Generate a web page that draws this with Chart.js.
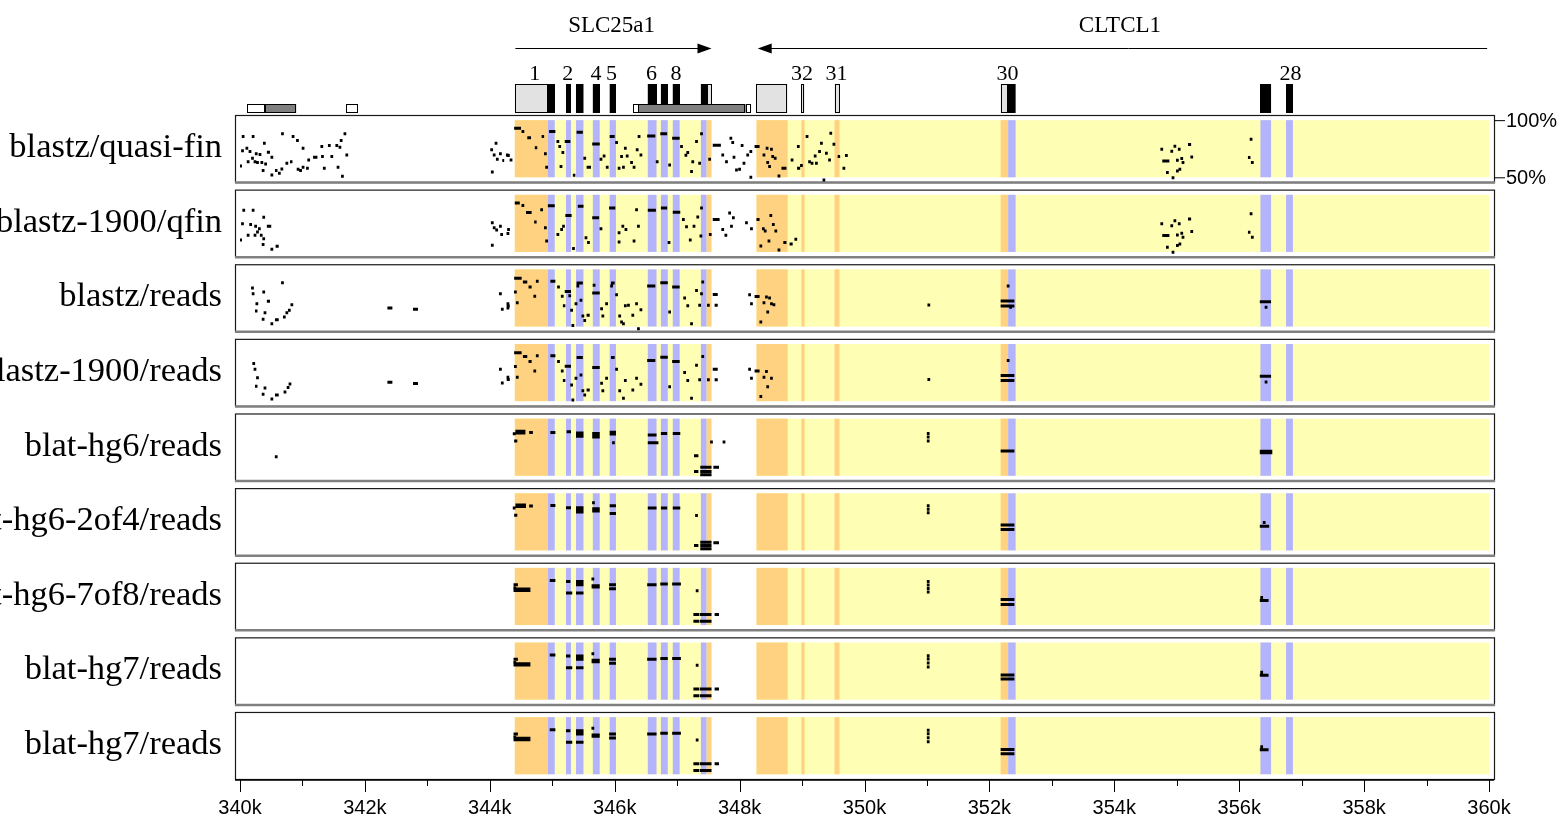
<!DOCTYPE html>
<html><head><meta charset="utf-8">
<script src="https://cdn.jsdelivr.net/npm/chart.js@4.4.1/dist/chart.umd.min.js"></script>
<style>html,body{margin:0;padding:0;background:#fff;overflow:hidden}canvas{display:block}</style>
</head><body>
<canvas id="c" width="1565" height="822"></canvas>
<script>
// ---------------- data ----------------
const panelLabels = ["blastz/quasi-fin","blastz-1900/qfin","blastz/reads","blastz-1900/reads","blat-hg6/reads","blat-hg6-2of4/reads","blat-hg6-7of8/reads","blat-hg7/reads","blat-hg7/reads"];
const xTickValues = [340,341,342,343,344,345,346,347,348,349,350,351,352,353,354,355,356,357,358,359,360];
const xLabelValues = [340,342,344,346,348,350,352,354,356,358,360];
const pctLabels = [100,50];

// aligned regions (kb)
const yellowRegions = [[344.40,347.55],[348.27,360.0]];
const utrExons = [[344.40,344.93],[347.47,347.55],[348.27,348.77],[348.99,349.04],[349.52,349.60],[352.18,352.30]];
const cdsExons = [[344.93,345.04],[345.22,345.30],[345.38,345.50],[345.65,345.76],[345.92,346.02],[346.53,346.67],[346.74,346.85],[346.93,347.04],[347.38,347.47],[352.30,352.42],[356.34,356.51],[356.75,356.86]];
const repeatsSimple = [[340.11,340.40],[341.70,341.90],[346.29,346.38],[348.10,348.18]];
const repeatsOther = [[340.40,340.90],[346.38,348.10]];
const exonNumbers = [[344.72,"1"],[345.25,"2"],[345.70,"4"],[345.95,"5"],[346.59,"6"],[346.98,"8"],[349.00,"32"],[349.55,"31"],[352.29,"30"],[356.82,"28"]];
const geneNames = ["SLC25a1","CLTCL1"];
const geneLabelAt = [345.95,354.09];
const geneArrowFrom = [344.41,359.97];
const geneArrowTo = [347.55,348.29];

// percent-identity segments: [start,end,pct] or [pos,pct]
const blastzQuasiFin = [
[340.01,59.9],[340.13,63.7],[340.24,63.7],[340.28,62.9],[340.35,63.0],[340.32,69.9],[340.26,70.5],[340.43,340.48,72.0],[340.41,61.7],[340.37,55.9],[340.51,52.0],[340.56,340.60,55.9],[340.63,53.5],[340.75,62.3],[340.80,340.84,63.7],[340.93,57.0],[340.97,56.0],[341.01,58.8],[341.10,65.2],[341.17,341.24,67.5],[341.31,76.9],[341.35,57.9],[341.47,68.2],[341.55,77.8],[341.60,76.3],[341.62,82.2],[341.68,88.0],[341.71,69.6],[341.57,58.8],[341.64,50.9],[340.21,85.7],[340.05,85.7],[340.68,88.0],[340.85,85.7],[340.92,82.2],[340.39,79.8],[340.16,72.5],[340.04,73.3],[340.11,75.4],[340.51,67.5],[340.20,66.7],[340.67,57.3],[341.01,75.4],[341.32,68.2],[341.43,77.8],[341.08,57.9],
[344.03,74.0],[344.07,69.6],[344.12,65.8],[344.17,70.5],[344.20,344.23,64.7],[344.27,344.32,69.0],[344.34,65.2],[344.04,54.7],[344.10,79.8],[344.28,69.6],
[344.39,344.50,93.0],[344.53,90.0],[344.60,344.66,84.6],[344.72,344.76,75.9],[344.83,344.87,85.7],[344.89,70.5],[344.91,58.8],[344.95,345.05,90.0],[345.09,81.3],[345.12,76.9],[345.17,71.6],[345.20,345.29,81.3],[345.14,59.4],[345.33,345.37,51.8],[345.39,345.49,89.5],[345.52,66.7],[345.55,345.62,58.8],[345.64,345.76,79.2],[345.78,65.8],[345.83,68.7],[345.88,58.8],[345.92,346.00,85.7],[346.03,80.4],[346.07,57.9],[346.11,68.2],[346.14,58.8],[346.17,75.4],[346.20,68.7],[346.27,62.9],[346.31,58.8],[346.36,74.0],[346.39,85.7],[346.42,69.6],[346.52,346.65,86.2],[346.68,63.7],[346.73,346.84,88.0],[346.92,347.04,84.2],[346.88,60.8],[347.07,76.9],[347.14,69.3],[347.17,71.6],[347.23,55.0],[347.25,63.7],[347.31,81.3],[347.36,62.3],[347.39,88.0],[347.52,65.8],[347.57,347.70,78.1],[347.73,69.6],[347.79,63.7],[347.86,84.2],[347.89,80.4],[347.91,67.5],[347.95,56.4],[348.00,57.0],[348.04,77.8],[348.07,62.3],[348.13,69.6],[348.18,50.0],[348.18,72.5],[348.24,348.32,76.9],[348.39,69.6],[348.44,75.4],[348.45,62.9],[348.48,59.4],[348.53,68.2],[348.57,66.7],[348.51,74.6],[348.63,51.2],[348.67,348.75,57.9],[348.84,65.2],[348.92,348.97,57.9],[348.94,76.9],[348.99,60.3],[349.08,85.7],[349.12,63.7],[349.16,62.3],[349.21,68.7],[349.23,62.3],[349.28,72.5],[349.31,79.8],[349.39,71.0],[349.44,65.2],[349.46,88.5],[349.51,79.0],[349.57,349.61,68.2],[349.71,69.0],[349.67,57.9],[349.35,47.7],
[354.76,74.6],[354.92,72.8],[354.97,77.2],[355.04,74.6],[355.18,355.23,78.7],[354.79,64.3],[354.83,64.3],[354.86,64.3],[355.01,64.9],[355.08,66.4],[355.10,62.9],[355.24,67.8],[354.85,54.1],[354.94,49.7],[355.01,55.6],[355.05,57.0],[356.14,356.18,67.3],[356.21,62.9],[356.19,83.3]
];
const blastz1900Qfin = [
[340.06,86.4],[340.21,86.4],[340.38,80.3],[340.04,74.6],[340.17,74.0],[340.25,72.5],[340.31,70.3],[340.43,340.50,72.5],[340.01,60.4],[340.13,64.5],[340.24,64.5],[340.28,67.4],[340.34,64.5],[340.38,61.5],[340.37,56.6],[340.57,340.62,54.9],[340.51,52.3],
[344.04,75.5],[344.07,71.1],[344.11,69.1],[344.19,65.3],[344.17,72.5],[344.30,69.7],[344.29,66.2],[344.04,55.8],
[344.40,344.48,92.8],[344.53,90.7],[344.58,344.67,84.4],[344.71,344.75,76.2],[344.83,87.0],[344.89,71.1],[344.91,59.5],[344.93,345.04,90.5],[345.09,65.3],[345.15,69.7],[345.18,72.5],[345.21,345.31,81.8],[345.34,52.9],[345.41,345.50,89.9],[345.54,62.5],[345.58,58.2],[345.64,345.75,79.8],[345.78,70.3],[345.91,346.01,88.5],[346.07,66.8],[346.13,72.5],[346.18,69.7],[346.07,58.6],[346.31,59.5],[346.38,72.5],[346.35,87.0],[346.53,346.66,86.4],[346.74,346.84,88.5],[346.93,347.05,84.7],[346.87,58.2],[347.10,78.3],[347.15,72.0],[347.21,60.4],[347.27,72.5],[347.33,80.6],[347.39,88.5],[347.38,63.9],[347.53,65.3],[347.57,347.68,78.3],[347.73,69.7],[347.78,64.5],[347.84,84.1],[347.90,79.8],[347.87,72.5],[348.11,75.5],[348.19,70.3],[348.27,348.32,78.3],[348.38,70.3],[348.41,68.3],[348.50,81.8],[348.54,74.0],[348.58,68.3],[348.34,55.2],[348.47,59.5],[348.63,51.7],[348.70,348.75,58.2],[348.80,348.85,57.0],[348.90,61.0],
[354.76,74.6],[354.92,72.8],[354.97,77.2],[355.04,74.6],[355.18,355.23,78.7],[354.79,64.3],[354.83,64.3],[354.86,64.3],[355.01,64.9],[355.08,66.4],[355.10,62.9],[355.24,67.8],[354.85,54.1],[354.94,49.7],[355.01,55.6],[355.05,57.0],[356.14,356.18,67.3],[356.21,62.9],[356.19,83.3]
];
const blastzReads = [
[340.20,83.8],[340.21,78.8],[340.27,70.0],[340.43,340.48,72.1],[340.24,340.28,63.6],[340.40,62.1],[340.37,56.3],[340.51,52.5],[340.56,340.62,56.0],[340.71,58.3],[340.75,62.1],[340.79,64.2],[340.83,69.1],[340.68,88.4],[340.38,80.3],
[342.36,342.44,66.2],[342.77,342.85,65.1],
[344.17,78.8],[344.20,65.1],[344.27,344.32,68.0],[344.29,66.2],[344.29,70.0],
[344.39,344.51,92.3],[344.53,344.60,89.0],[344.62,344.67,84.6],[344.41,80.3],[344.44,70.9],[344.72,76.5],[344.76,89.7],[344.97,345.05,89.7],[345.10,84.6],[345.16,76.5],[345.17,345.21,68.1],[345.20,345.30,80.6],[345.28,76.9],[345.31,64.2],[345.33,51.0],[345.38,70.0],[345.39,345.49,88.2],[345.41,85.5],[345.46,73.0],[345.49,59.2],[345.52,55.4],[345.55,345.60,59.8],[345.64,345.76,79.4],[345.67,86.1],[345.79,65.6],[345.81,59.2],[345.87,70.0],[345.94,346.00,88.2],[345.95,85.5],[346.03,77.9],[346.08,59.2],[346.11,54.0],[346.14,52.5],[346.17,68.1],[346.22,68.7],[346.29,59.8],[346.35,70.0],[346.42,64.8],[346.52,346.65,85.5],[346.73,346.85,88.4],[346.92,347.04,84.6],[346.88,62.7],[347.12,75.0],[347.17,68.1],[347.23,52.5],[347.31,81.5],[347.36,68.7],[347.39,78.8],[347.41,89.0],[347.50,68.7],[347.57,347.65,78.0],[347.60,347.65,68.7],
[348.16,77.9],[348.19,70.0],[348.24,348.32,76.3],[348.39,70.9],[348.43,75.9],[348.48,75.0],[348.45,62.7],[348.51,70.0],[348.55,69.1],[348.34,54.0],[346.38,48.0],
[351.03,68.9],[352.30,85.5],[352.18,352.40,72.4],[352.18,352.40,68.0],[352.34,66.8],[356.33,356.51,71.8],[356.43,66.8]
];
const blastz1900Reads = [
[340.22,83.0],[340.24,78.0],[340.28,70.5],[340.24,340.28,63.0],[340.40,61.5],[340.37,56.0],[340.51,52.0],[340.56,340.62,55.5],[340.72,58.0],[340.77,62.0],[340.80,65.0],
[342.36,342.44,66.5],[342.77,342.85,65.5],
[344.17,78.0],[344.20,66.0],[344.27,344.32,69.0],[344.29,71.0],
[344.39,344.51,92.3],[344.53,344.60,89.0],[344.62,344.67,84.6],[344.41,80.3],[344.44,70.9],[344.72,76.5],[344.76,89.7],[344.97,345.05,89.7],[345.10,84.6],[345.16,76.5],[345.17,345.21,68.1],[345.20,345.30,80.6],[345.31,64.2],[345.33,51.0],[345.38,70.0],[345.39,345.49,88.2],[345.46,73.0],[345.49,59.2],[345.52,55.4],[345.55,345.60,59.8],[345.64,345.76,79.4],[345.79,65.6],[345.81,59.2],[345.87,70.0],[345.94,346.00,88.2],[346.03,77.9],[346.08,59.2],[346.14,52.5],[346.17,68.1],[346.29,59.8],[346.35,70.0],[346.42,64.8],[346.52,346.65,85.5],[346.73,346.85,88.4],[346.92,347.04,84.6],[346.88,62.7],[347.12,75.0],[347.17,68.1],[347.23,52.5],[347.31,81.5],[347.36,68.7],[347.41,89.0],[347.50,68.7],[347.57,347.65,78.0],[347.60,347.65,68.7],
[348.16,77.9],[348.19,70.0],[348.24,348.32,76.3],[348.39,70.9],[348.43,75.9],[348.45,62.7],[348.51,70.0],[348.34,54.0],
[351.03,68.9],[352.30,85.5],[352.18,352.40,72.4],[352.18,352.40,68.0],[356.33,356.51,71.8],[356.43,66.8]
];
const blatHg6Reads = [
[340.58,66.6],
[344.41,344.57,89.0],[344.41,344.57,87.5],[344.63,344.69,87.9],[344.39,86.8],[344.39,344.44,80.4],[344.97,345.05,87.9],[345.23,345.30,88.5],[345.38,345.50,87.5],[345.38,345.50,86.0],[345.38,345.50,84.5],[345.64,345.76,87.0],[345.64,345.76,85.5],[345.64,345.76,84.0],[345.92,346.02,88.0],[345.92,346.02,86.5],[345.98,79.0],[346.53,346.67,85.6],[346.53,346.70,79.0],[346.74,346.84,87.0],[346.93,347.05,87.0],[347.27,347.34,67.5],[347.27,347.34,53.7],[347.37,347.55,57.5],[347.37,347.55,53.7],[347.37,347.55,50.9],[347.58,347.67,57.5],[347.55,79.6],[347.75,79.6],
[351.02,87.0],[351.02,84.0],[351.02,80.5],[352.18,352.40,71.6],[356.33,356.53,71.5],[356.33,356.53,70.2]
];
const blatHg6_2of4Reads = [
[344.41,344.58,89.8],[344.41,344.58,88.5],[344.63,344.69,88.9],[344.39,87.0],[344.39,344.44,80.7],[344.97,345.05,89.3],[345.22,345.30,87.3],[345.38,345.50,87.4],[345.38,345.50,85.5],[345.38,345.50,83.5],[345.64,345.76,86.5],[345.64,345.76,84.5],[345.66,91.6],[345.92,346.02,89.0],[345.92,346.02,82.4],[346.53,346.67,87.0],[346.74,346.84,87.0],[346.93,347.05,87.0],[347.31,80.6],[347.27,347.34,54.2],[347.37,347.55,57.1],[347.37,347.55,54.2],[347.37,347.55,51.4],[347.58,347.67,56.8],
[351.02,89.0],[351.02,86.0],[351.02,83.0],[352.18,352.40,72.2],[352.18,352.40,68.2],[356.33,356.48,71.2],[356.40,74.5]
];
const blatHg6_7of8Reads = [
[344.38,344.45,85.3],[344.40,82.4],[344.38,344.65,81.5],[344.38,344.65,80.3],[344.96,345.05,89.0],[345.22,345.29,88.1],[345.22,345.32,78.0],[345.38,345.50,88.1],[345.38,345.50,86.6],[345.38,345.50,85.3],[345.38,345.50,78.0],[345.65,90.2],[345.63,345.76,84.4],[345.63,345.76,83.2],[345.91,346.02,85.3],[345.91,346.02,81.8],[346.52,346.67,85.3],[346.73,346.85,85.9],[346.92,347.06,85.9],[347.32,80.0],[347.26,347.35,59.3],[347.36,347.55,59.3],[347.60,347.67,59.3],[347.26,347.35,53.4],[347.36,347.55,53.4],
[351.02,88.0],[351.02,85.0],[351.02,82.0],[351.02,79.0],[352.18,352.40,72.3],[352.18,352.40,68.0],[356.33,356.47,71.4],[356.36,74.0]
];
const blatHg7Reads = [
[344.38,344.45,85.3],[344.40,82.4],[344.38,344.65,81.5],[344.38,344.65,80.3],[344.96,345.05,89.0],[345.22,345.29,88.1],[345.22,345.32,78.0],[345.38,345.50,88.1],[345.38,345.50,86.6],[345.38,345.50,85.3],[345.38,345.50,78.0],[345.65,90.2],[345.63,345.76,84.4],[345.63,345.76,83.2],[345.91,346.02,85.3],[345.91,346.02,81.8],[346.52,346.67,85.3],[346.73,346.85,85.9],[346.92,347.06,85.9],[347.32,80.0],[347.26,347.35,59.3],[347.36,347.55,59.3],[347.60,347.67,59.3],[347.26,347.35,53.4],[347.36,347.55,53.4],
[351.02,88.5],[351.02,85.5],[351.02,82.0],[351.02,78.5],[352.18,352.40,71.6],[352.18,352.40,68.0],[356.33,356.47,71.4],[356.36,74.0]
];
const panelSeries = [blastzQuasiFin, blastz1900Qfin, blastzReads, blastz1900Reads, blatHg6Reads, blatHg6_2of4Reads, blatHg6_7of8Reads, blatHg7Reads, blatHg7Reads];

// ---------------- layout constants ----------------
const STEP = 65.27, PMIN = 45, PMAX = 104.5;
const NP = panelLabels.length;
const yv = (i, p) => (NP - 1 - i) * STEP + p;
const DOT = 0.022;

const datasets = panelSeries.map((segs, i) => {
  const d = [];
  segs.forEach(s => {
    let a, b, p;
    if (s.length === 2) { a = s[0] - DOT; b = s[0] + DOT; p = s[1]; }
    else { a = s[0]; b = s[1]; p = s[2]; }
    d.push({x: a, y: yv(i, p)}, {x: b, y: yv(i, p)}, {x: b, y: null});
  });
  return {label: panelLabels[i], data: d, showLine: true, spanGaps: false, borderColor: '#000', backgroundColor: '#000',
          borderWidth: 3, pointRadius: 0, pointHoverRadius: 0, borderCapStyle: 'butt', tension: 0};
});

const COL_YELLOW = '#FEFEB4', COL_ORANGE = '#FED280', COL_BLUE = '#B4B4FC';
const SERIF = '"Liberation Serif","Times New Roman",serif';
const SANS = '"Liberation Sans",Arial,sans-serif';

const pipPlugin = {
  id: 'pip',
  beforeDatasetsDraw(chart) {
    const ctx = chart.ctx, xs = chart.scales.x, ys = chart.scales.y;
    const L = xs.getPixelForValue(340) - 5, R = xs.getPixelForValue(360) + 5;
    ctx.save();
    for (let i = 0; i < NP; i++) {
      const top = ys.getPixelForValue(yv(i, PMAX)), bot = ys.getPixelForValue(yv(i, PMIN));
      const y100 = ys.getPixelForValue(yv(i, 100)), y50 = ys.getPixelForValue(yv(i, 50));
      const band = (arr, col) => { ctx.fillStyle = col; arr.forEach(r => {
        const a = xs.getPixelForValue(r[0]), b = xs.getPixelForValue(r[1]);
        ctx.fillRect(a, y100, b - a, y50 - y100); }); };
      band(yellowRegions, COL_YELLOW);
      band(utrExons, COL_ORANGE);
      band(cdsExons, COL_BLUE);
      // frame
      ctx.strokeStyle = '#1a1a1a'; ctx.lineWidth = 1.2;
      ctx.strokeRect(L + 0.5, top + 0.5, R - L, bot - top - 1);
      if (i < NP - 1) {
        ctx.strokeStyle = '#808080'; ctx.lineWidth = 2.5;
        ctx.beginPath(); ctx.moveTo(L, bot - 0.5); ctx.lineTo(R + 1, bot - 0.5); ctx.stroke();
      }
    }
    ctx.restore();
  },
  afterDraw(chart) {
    const ctx = chart.ctx, xs = chart.scales.x, ys = chart.scales.y, ca = chart.chartArea;
    const L = xs.getPixelForValue(340) - 5, R = xs.getPixelForValue(360) + 5;
    const px = v => xs.getPixelForValue(v);
    ctx.save();
    // panel labels
    ctx.fillStyle = '#000'; ctx.font = '34.5px ' + SERIF; ctx.textAlign = 'right'; ctx.textBaseline = 'middle';
    for (let i = 0; i < NP; i++) {
      const top = ys.getPixelForValue(yv(i, PMAX)), bot = ys.getPixelForValue(yv(i, PMIN));
      ctx.fillText(panelLabels[i], L - 13, (top + bot) / 2 - 1);
    }
    // percent labels on first panel
    ctx.font = '20px ' + SANS; ctx.textAlign = 'left';
    ctx.strokeStyle = '#000'; ctx.lineWidth = 1;
    pctLabels.forEach(p => {
      const y = ys.getPixelForValue(yv(0, p));
      ctx.beginPath(); ctx.moveTo(R, y + 0.5); ctx.lineTo(R + 11, y + 0.5); ctx.stroke();
      ctx.fillText(p + '%', R + 12, y + 1);
    });
    // bottom axis line + ticks
    const yb = ca.bottom;
    ctx.strokeStyle = '#000'; ctx.lineWidth = 1.5;
    ctx.beginPath(); ctx.moveTo(L, yb); ctx.lineTo(R, yb); ctx.stroke();
    ctx.lineWidth = 1;
    xTickValues.forEach(v => {
      const x = Math.round(px(v)) + 0.5;
      const len = xLabelValues.includes(v) ? 12 : 6;
      ctx.beginPath(); ctx.moveTo(x, yb); ctx.lineTo(x, yb + len); ctx.stroke();
    });
    // gene annotation track
    const TT = 84, TB = 113, ST = 104;
    const box = (a, b, y0, y1, fill) => {
      const xa = px(a), xb = px(b);
      ctx.fillStyle = fill; ctx.fillRect(xa, y0, xb - xa, y1 - y0);
      ctx.strokeStyle = '#000'; ctx.lineWidth = 1;
      ctx.strokeRect(Math.round(xa) + 0.5, y0 + 0.5, Math.max(1, Math.round(xb - xa) - 1), y1 - y0 - 1);
    };
    utrExons.forEach(r => box(r[0], r[1], TT, TB, '#E2E2E2'));
    cdsExons.forEach(r => box(r[0], r[1], TT, TB, '#000'));
    repeatsSimple.forEach(r => box(r[0], r[1], ST, TB, '#fff'));
    repeatsOther.forEach(r => box(r[0], r[1], ST, TB, '#7f7f7f'));
    // exon numbers
    ctx.fillStyle = '#000'; ctx.font = '22px ' + SERIF; ctx.textAlign = 'center'; ctx.textBaseline = 'alphabetic';
    exonNumbers.forEach(e => ctx.fillText(e[1], px(e[0]), 80));
    // gene names + arrows
    ctx.font = '23px ' + SERIF;
    geneNames.forEach((g, k) => {
      ctx.fillText(g, px(geneLabelAt[k]), 32);
      const a = px(geneArrowFrom[k]), b = px(geneArrowTo[k]), y = 48.5, dir = b > a ? 1 : -1;
      ctx.strokeStyle = '#000'; ctx.lineWidth = 1;
      ctx.beginPath(); ctx.moveTo(a, y); ctx.lineTo(b - dir * 12, y); ctx.stroke();
      ctx.beginPath(); ctx.moveTo(b, y); ctx.lineTo(b - dir * 14, y - 5); ctx.lineTo(b - dir * 14, y + 5); ctx.closePath(); ctx.fill();
    });
    ctx.restore();
  }
};

new Chart(document.getElementById('c'), {
  type: 'scatter',
  data: {datasets},
  plugins: [pipPlugin],
  options: {
    responsive: false, animation: false, devicePixelRatio: 1,
    layout: {padding: {left: 240, right: 76, top: 115, bottom: 0}},
    plugins: {legend: {display: false}, tooltip: {enabled: false}},
    events: [],
    scales: {
      x: {type: 'linear', min: 340, max: 360, position: 'bottom',
          afterBuildTicks: s => { s.ticks = xLabelValues.map(v => ({value: v})); },
          afterFit: s => { s.height = 42; },
          grid: {display: false, drawTicks: false}, border: {display: false},
          ticks: {autoSkip: false, maxRotation: 0, padding: 16, color: '#000',
                  font: {family: SANS, size: 20}, callback: v => v + 'k'}},
      y: {type: 'linear', display: false, min: PMIN, max: (NP - 1) * STEP + PMAX}
    }
  }
});
</script>
</body></html>
